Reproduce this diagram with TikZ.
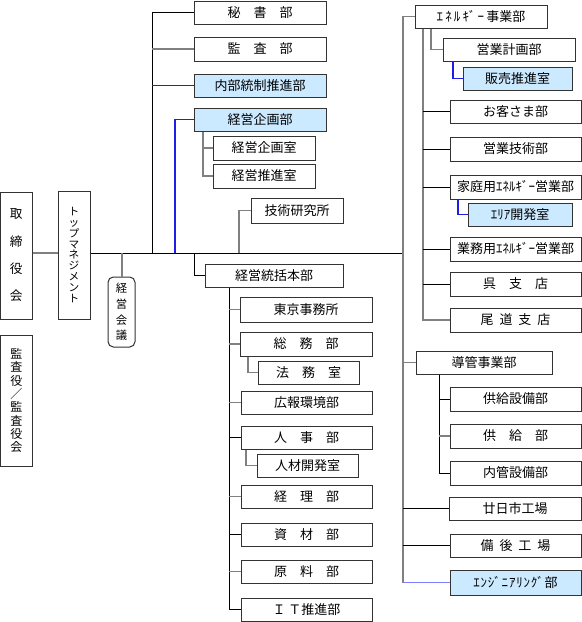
\documentclass[tikz,border=0pt]{standalone}
\usepackage{fontspec}
\setmainfont{Noto Sans CJK JP}
\definecolor{boxblue}{RGB}{204,234,255}
\definecolor{lineblue}{RGB}{30,30,230}
\definecolor{lineblueb}{RGB}{125,125,255}
\newcommand{\hs}{\hspace{0.45em}}
\newcommand{\kk}{\kern1.6pt}
\newcommand{\orgbox}[7]{%
  \pgfmathsetmacro\obcx{(#3+#5)/2}\pgfmathsetmacro\obcy{(#4+#6)/2}%
  \pgfmathsetmacro\obw{(#5-#3)*0.75}\pgfmathsetmacro\obh{(#6-#4)*0.75}%
  \node[#1, minimum width=\obw pt, minimum height=\obh pt] (#2) at (\obcx,\obcy) {#7};}
\begin{document}
\begin{tikzpicture}[x=0.75pt,y=-0.75pt,
  base/.style={draw=black!80, line width=0.75pt, fill=white, inner sep=0pt, anchor=center},
  box/.style={base, font=\fontsize{9.75}{11}\selectfont, text height=0.86em, text depth=0.14em},
  bbox/.style={box, fill=boxblue},
  vbox/.style={base, align=center},
  ln/.style={line width=0.75pt, black},
  lg/.style={line width=0.9pt, black!50},
  blueln/.style={line width=0.8pt, lineblue},
  bluelnb/.style={line width=1.1pt, lineblueb}]
\useasboundingbox (0,0) rectangle (582,622);

% left column
\orgbox{vbox, font=\fontsize{9.5}{20.5}\selectfont}{tori}{0.5}{192}{32}{319}{取\\締\\役\\会}
\orgbox{vbox, font=\fontsize{9}{10}\selectfont}{kansayaku}{0.5}{335}{32}{466}{監\\査\\役\\／\\監\\査\\役\\会}
\orgbox{vbox, font=\fontsize{8}{8.1}\selectfont}{topm}{58}{191}{90}{319}{ト\\ッ\\プ\\マ\\ネ\\ジ\\メ\\ン\\ト}
\orgbox{vbox, rounded corners=4pt, font=\fontsize{8.5}{11.75}\selectfont}{kaigi}{108}{277}{135}{347}{経\\営\\会\\議}

% upper middle column
\orgbox{box}{hisho}{194}{1}{326}{24}{秘　書　部}
\orgbox{box}{kansa}{194}{37}{326}{61}{監　査　部}
\orgbox{bbox}{naibu}{194}{74}{326}{97}{内部統制推進部}
\orgbox{bbox}{kikaku}{194}{108}{326}{131}{経営企画部}
\orgbox{box}{kikakushitsu}{213}{136}{315}{160}{経営企画室}
\orgbox{box}{suishin}{213}{164}{315}{188}{経営推進室}
\orgbox{box}{giken}{251}{198}{343}{223}{技術研究所}

% lower middle column
\orgbox{box}{tokatsu}{205}{264}{343}{287}{経営統括本部}
\orgbox{box}{tokyo}{240}{297}{372}{322}{東京事務所}
\orgbox{box}{somu}{240}{332}{372}{356}{総　務　部}
\orgbox{box}{homu}{258}{361}{359}{384}{法　務　室}
\orgbox{box}{koho}{241}{391}{372}{414}{広報環境部}
\orgbox{box}{jinji}{241}{426}{372}{449}{人　事　部}
\orgbox{box}{jinzai}{257}{454}{358}{477}{人材開発室}
\orgbox{box}{keiri}{241}{485}{372}{508}{経　理　部}
\orgbox{box}{shizai}{241}{523}{372}{546}{資　材　部}
\orgbox{box}{genryo}{241}{560}{372}{583}{原　料　部}
\orgbox{box}{it}{241}{598}{372}{621}{Ｉ Ｔ推進部}

% right column
\orgbox{box}{energy}{415}{5}{547}{28}{ｴ\kk ﾈ\kk ﾙ\kk ｷﾞ\kk ｰ\kk 事業部}
\orgbox{box}{eigyokeikaku}{443}{38}{575}{61}{営業計画部}
\orgbox{bbox}{hanbai}{463}{67}{572}{90}{販売推進室}
\orgbox{box}{okyaku}{450}{100}{581}{123}{お客さま部}
\orgbox{box}{gijutsu}{450}{137}{581}{161}{営業技術部}
\orgbox{box}{katei}{450}{175}{581}{199}{家庭用ｴﾈﾙｷﾞｰ営業部}
\orgbox{bbox}{area}{468}{203}{572}{226}{ｴﾘｱ開発室}
\orgbox{box}{gyomu}{450}{237}{581}{261}{業務用ｴﾈﾙｷﾞｰ営業部}
\orgbox{box}{kure}{450}{272}{581}{296}{呉　支　店}
\orgbox{box}{onomichi}{450}{308}{581}{332}{尾\hs 道\hs 支\hs 店}
\orgbox{box}{dokan}{416}{351}{552}{374}{導管事業部}
\orgbox{box}{kyokyusetsubi}{450}{387}{581}{411}{供給設備部}
\orgbox{box}{kyokyu}{450}{424}{581}{448}{供　給　部}
\orgbox{box}{naikan}{450}{461}{581}{485}{内管設備部}
\orgbox{box}{hatsukaichi}{449}{497}{581}{520}{廿日市工場}
\orgbox{box}{bingo}{450}{534}{581}{557}{備\hs 後\hs 工\hs 場}
\orgbox{bbox}{eng}{450}{570}{581}{595}{ｴ\kern.6pt ﾝ\kern.6pt ｼﾞ\kern.6pt ﾆ\kern.6pt ｱ\kern.6pt ﾘ\kern.6pt ﾝ\kern.6pt ｸﾞ\kern.6pt 部}

% main line
\coordinate (mR) at (403,253);
\draw[lg] (tori.east |- mR) -- (topm.west |- mR);
\draw[ln] (topm.east |- mR) -- (mR);
\coordinate (kA) at (122,253);
\draw[lg] (kA) -- (kA |- kaigi.north);

% upper middle
\coordinate (vA) at (152,253);
\draw[ln] (vA) -- (vA |- hisho.west) -- (hisho.west);
\draw[lg] (vA |- kansa.west) -- (kansa.west);
\draw[blueln] (vA |- naibu.west) -- (naibu.west);
\coordinate (vB) at (175,253);
\draw[blueln] (vB) -- (vB |- kikaku.west) -- (kikaku.west);
\coordinate (vC) at (203,0);
\draw[lg] (vC |- kikaku.south) -- (vC |- suishin.west) -- (suishin.west);
\draw[lg] (vC |- kikakushitsu.west) -- (kikakushitsu.west);
\coordinate (vD) at (239,253);
\draw[lg] (vD) -- (vD |- giken.west) -- (giken.west);

% lower middle
\coordinate (vE) at (194,253);
\draw[ln] (vE) -- (vE |- tokatsu.west) -- (tokatsu.west);
\coordinate (vF) at (229,0);
\draw[ln] (vF |- tokatsu.south) -- (vF |- it.west) -- (it.west);
\foreach \n in {tokyo,somu,koho,keiri,genryo}
  \draw[lg] (vF |- \n.west) -- (\n.west);
\foreach \n in {jinji,shizai}
  \draw[ln] (vF |- \n.west) -- (\n.west);
\coordinate (vG) at (248,0);
\draw[lg] (vG |- somu.south) -- (vG |- homu.west) -- (homu.west);
\coordinate (vH) at (246,0);
\draw[lg] (vH |- jinji.south) -- (vH |- jinzai.west) -- (jinzai.west);

% right
\coordinate (vR) at (403,0);
\draw[lg] (vR |- eng.west) -- (vR |- energy.west) -- (energy.west);
\draw[lg] (vR |- dokan.west) -- (dokan.west);
\draw[ln] (vR |- hatsukaichi.west) -- (hatsukaichi.west);
\draw[ln] (vR |- bingo.west) -- (bingo.west);
\draw[bluelnb] (vR |- eng.west) -- (eng.west);
\coordinate (vS) at (423,0);
\draw[lg] (vS |- energy.south) -- (vS |- onomichi.west) -- (onomichi.west);
\foreach \n in {okyaku,gijutsu,katei,gyomu,kure}
  \draw[ln] (vS |- \n.west) -- (\n.west);
\coordinate (vT) at (431,0);
\draw[lg] (vT |- energy.south) -- (vT |- eigyokeikaku.west) -- (eigyokeikaku.west);
\coordinate (vU) at (453,0);
\draw[blueln] (vU |- eigyokeikaku.south) -- (vU |- hanbai.west) -- (hanbai.west);
\coordinate (vV) at (458,0);
\draw[blueln] (vV |- katei.south) -- (vV |- area.west) -- (area.west);
\coordinate (vW) at (439,0);
\draw[ln] (vW |- dokan.south) -- (vW |- naikan.west) -- (naikan.west);
\draw[ln] (vW |- kyokyusetsubi.west) -- (kyokyusetsubi.west);
\draw[lg] (vW |- kyokyu.west) -- (kyokyu.west);
\end{tikzpicture}
\end{document}
